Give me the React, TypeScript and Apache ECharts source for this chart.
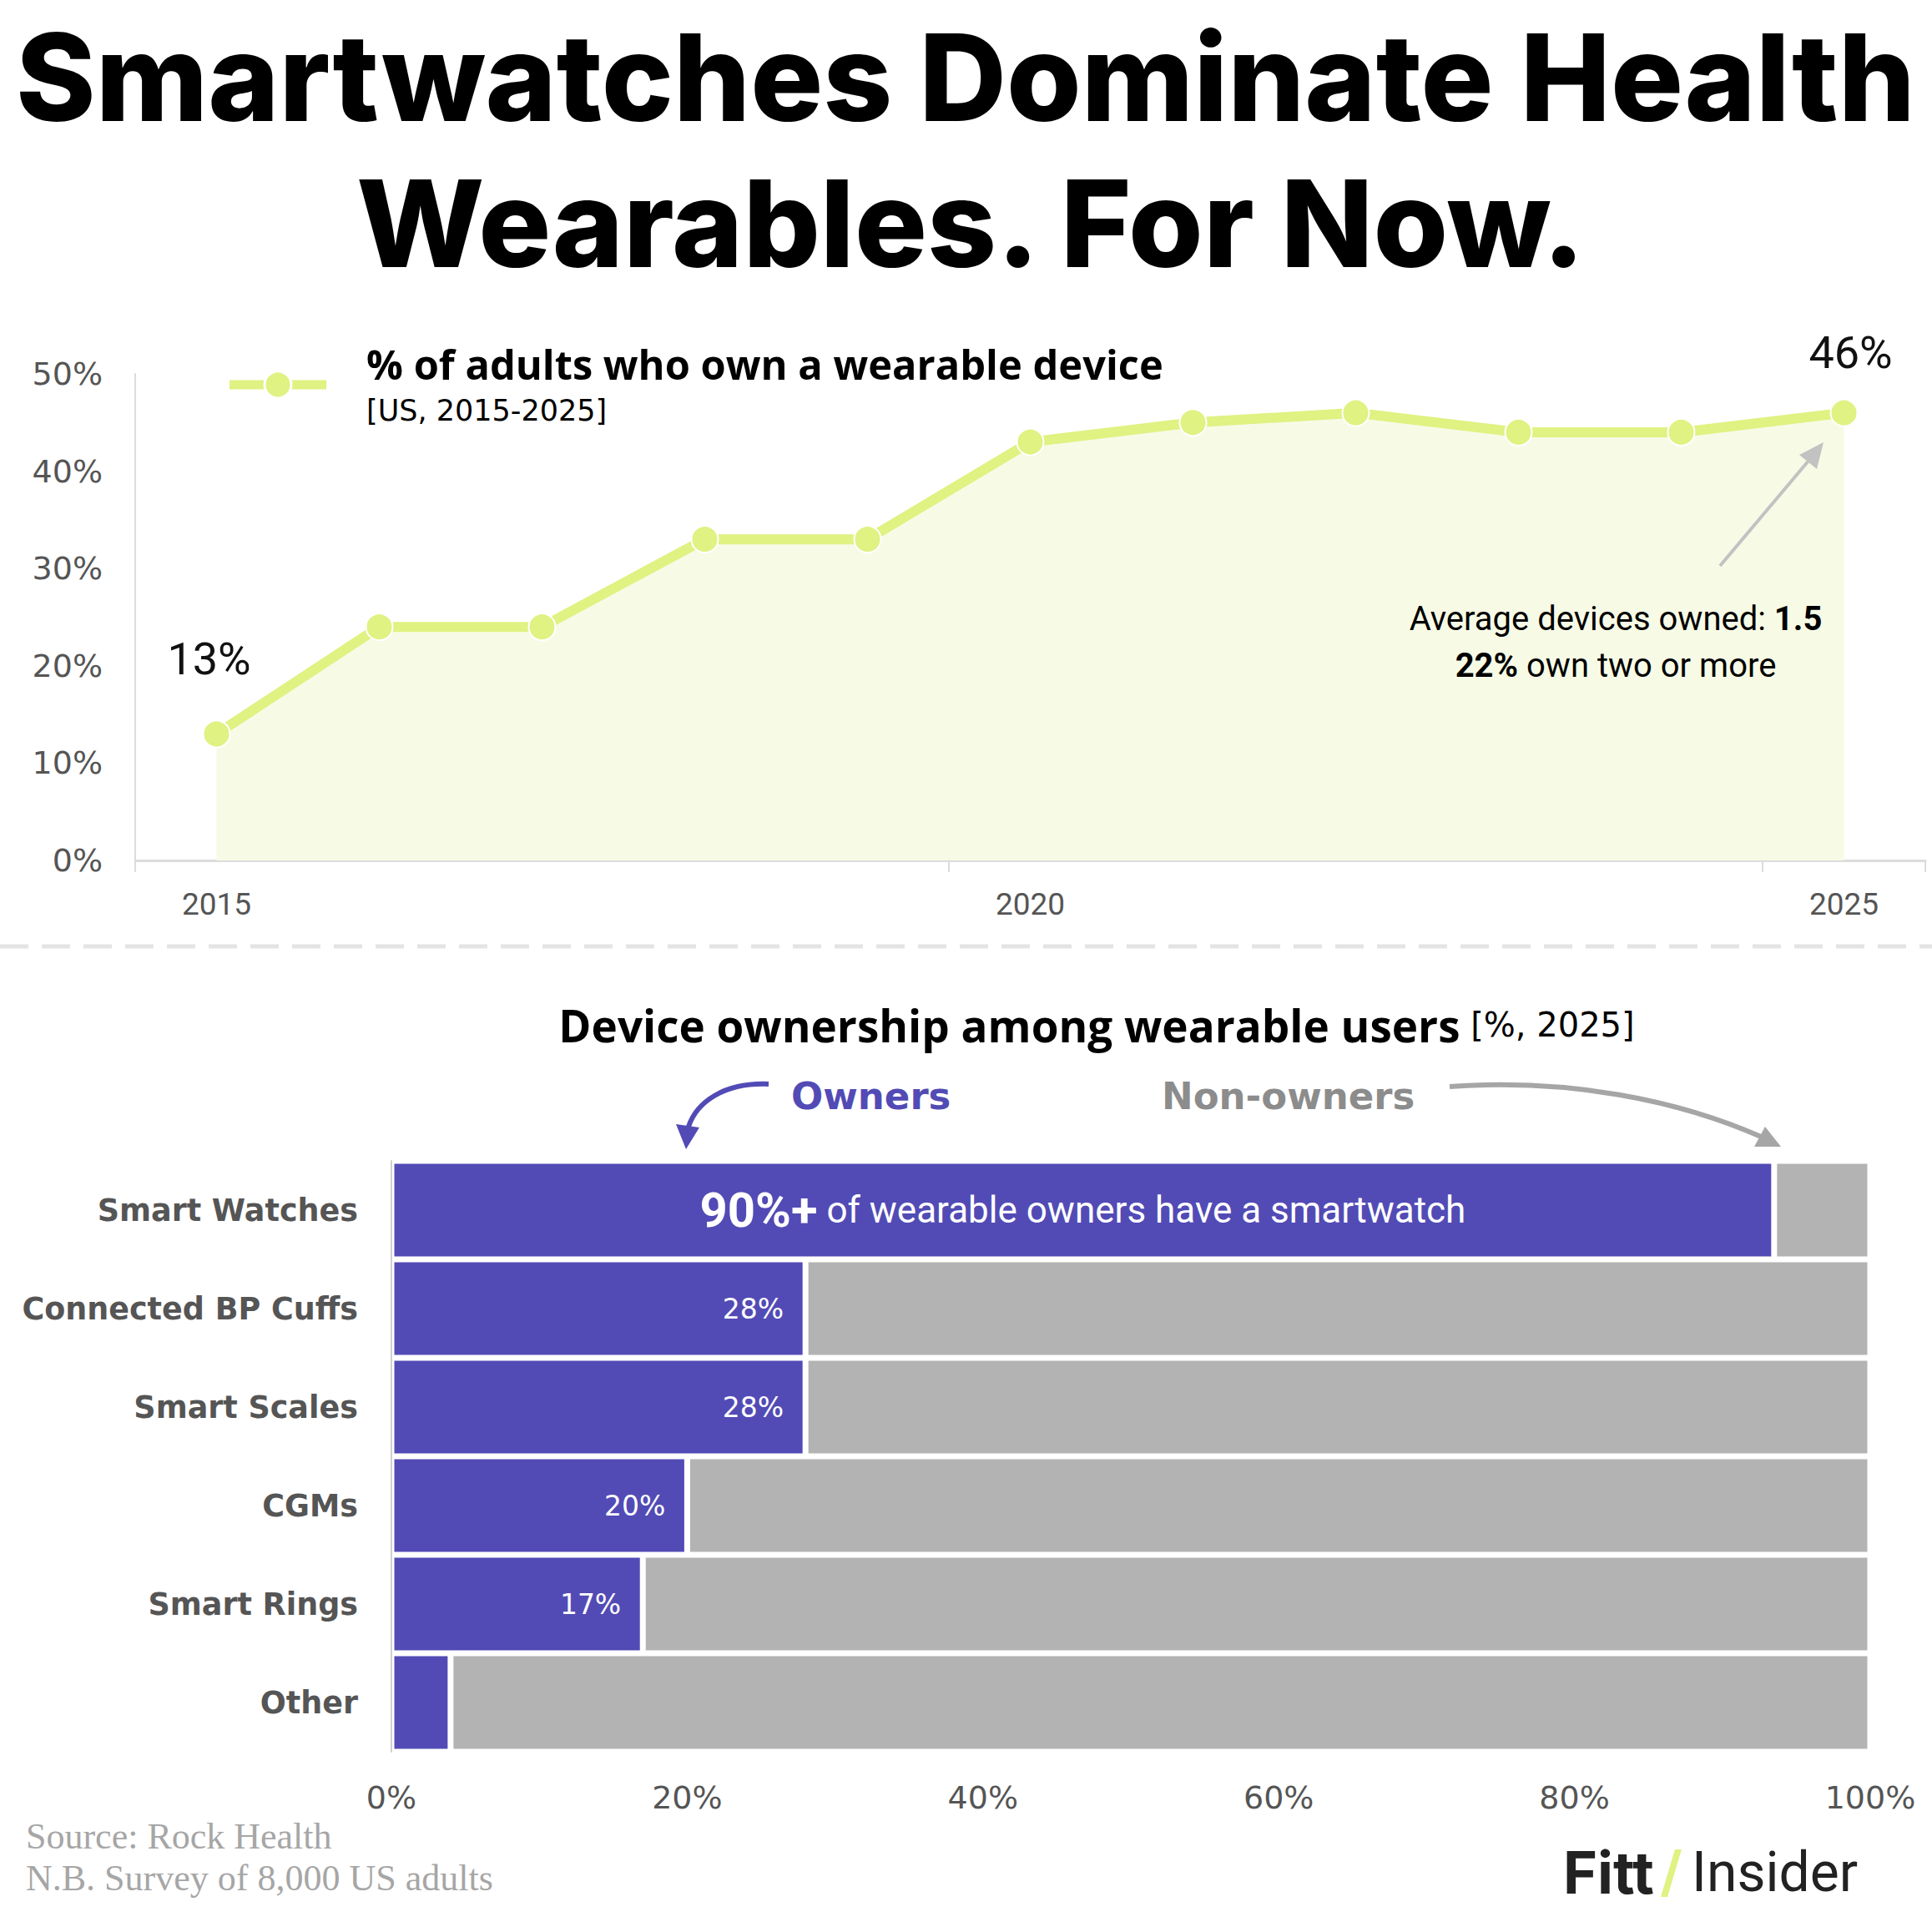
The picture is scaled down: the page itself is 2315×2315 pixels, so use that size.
import React, { useEffect, useRef } from "react";
import * as echarts from "echarts";

// Share of US adults owning a wearable device, 2015–2025
const years = ["2015", "2016", "2017", "2018", "2019", "2020", "2021", "2022", "2023", "2024", "2025"];
const adultShare = [13, 24, 24, 33, 33, 43, 45, 46, 44, 44, 46];

// Device ownership among wearable users, 2025
const devices = ["Smart Watches", "Connected BP Cuffs", "Smart Scales", "CGMs", "Smart Rings", "Other"];
const owners = [93.5, 28, 28, 20, 17, 4];
const nonOwners = [6.5, 72, 72, 80, 83, 96];

const LIME = "#dff282";
const PURPLE = "#524bb5";
const GREY_BAR = "#b3b3b3";
const AXIS_TEXT = "#555555";
const SANS = "Roboto, 'Noto Sans', sans-serif";
const WIDE = "'DejaVu Sans', 'Open Sans', sans-serif";
const OPEN = "'Open Sans', 'Noto Sans', sans-serif";
const TITLE_FONT = "Inter, 'Liberation Sans', sans-serif";

export default function App() {
  const ref = useRef<HTMLDivElement>(null);

  useEffect(() => {
    if (!ref.current) return;
    const chart = echarts.init(ref.current, null, { renderer: "svg" });

    const lineData = adultShare.map((v, i) => {
      if (i === 0) {
        return { value: v, label: { show: true, distance: 46, offset: [-9, 0] } };
      }
      if (i === adultShare.length - 1) {
        return { value: v, label: { show: true, distance: 28, offset: [8, 0] } };
      }
      return v;
    });

    const ownerData = owners.map((v, i) => {
      if (i === 0) {
        return {
          value: v,
          label: {
            show: true,
            position: "inside",
            formatter: "{big|90%+}{txt| of wearable owners have a smartwatch}",
            rich: {
              big: { fontFamily: SANS, fontWeight: "bold", fontSize: 58, color: "#fff" },
              txt: { fontFamily: SANS, fontSize: 44, color: "#fff" },
            },
          },
        };
      }
      if (i === owners.length - 1) {
        return { value: v, label: { show: false } };
      }
      return v;
    });

    const txt = (style: any) => ({ type: "text", z: 100, style });

    const option: any = {
      animation: false,
      backgroundColor: "#ffffff",
      textStyle: { fontFamily: SANS },
      grid: [
        { left: 162, top: 448, width: 2145, height: 583, containLabel: false },
        { left: 469, top: 1391, width: 1772, height: 708, containLabel: false },
      ],
      xAxis: [
        {
          gridIndex: 0,
          type: "category",
          data: years,
          boundaryGap: true,
          axisLine: { show: true, lineStyle: { color: "#dcdcdc", width: 3 } },
          axisTick: { show: true, interval: 4, length: 14, lineStyle: { color: "#dcdcdc", width: 2 } },
          axisLabel: { interval: 4, color: AXIS_TEXT, fontSize: 37, margin: 34, fontFamily: SANS },
          splitLine: { show: false },
        },
        {
          gridIndex: 1,
          type: "value",
          min: 0,
          max: 100,
          interval: 20,
          axisLine: { show: false },
          axisTick: { show: false },
          splitLine: { show: false },
          axisLabel: { formatter: "{value}%", color: AXIS_TEXT, fontSize: 38, margin: 36, fontFamily: WIDE },
        },
      ],
      yAxis: [
        {
          gridIndex: 0,
          type: "value",
          min: 0,
          max: 50,
          interval: 10,
          axisLine: { show: true, lineStyle: { color: "#dcdcdc", width: 2 } },
          axisTick: { show: false },
          splitLine: { show: false },
          axisLabel: { formatter: "{value}%", color: AXIS_TEXT, fontSize: 38, margin: 39, fontFamily: WIDE },
        },
        {
          gridIndex: 1,
          type: "category",
          data: devices,
          inverse: true,
          z: 5,
          axisLine: { show: true, lineStyle: { color: "#cfcfcf", width: 2 } },
          axisTick: { show: false },
          splitLine: { show: false },
          axisLabel: { color: AXIS_TEXT, fontSize: 36.5, fontWeight: "bold", margin: 40, fontFamily: WIDE },
        },
      ],
      series: [
        {
          type: "line",
          xAxisIndex: 0,
          yAxisIndex: 0,
          data: lineData,
          symbol: "circle",
          symbolSize: 32,
          silent: true,
          lineStyle: { color: LIME, width: 12 },
          itemStyle: { color: LIME, borderColor: "#ffffff", borderWidth: 2 },
          areaStyle: { color: "#f7fbe6", opacity: 1 },
          label: {
            show: false,
            position: "top",
            formatter: "{c}%",
            color: "#111",
            fontSize: 54,
            fontFamily: SANS,
          },
        },
        {
          name: "Owners",
          type: "bar",
          xAxisIndex: 1,
          yAxisIndex: 1,
          stack: "own",
          barCategoryGap: "0%",
          data: ownerData,
          silent: true,
          itemStyle: { color: PURPLE, borderColor: "#ffffff", borderWidth: 3.5 },
          label: {
            show: true,
            position: "insideRight",
            distance: 26,
            formatter: "{c}%",
            color: "#ffffff",
            fontSize: 33,
            fontFamily: WIDE,
          },
        },
        {
          name: "Non-owners",
          type: "bar",
          xAxisIndex: 1,
          yAxisIndex: 1,
          stack: "own",
          barCategoryGap: "0%",
          data: nonOwners,
          silent: true,
          itemStyle: { color: GREY_BAR, borderColor: "#ffffff", borderWidth: 3.5 },
          label: { show: false },
        },
      ],
      graphic: [
        // headline
        txt({
          text: "Smartwatches Dominate Health",
          x: 1157,
          y: 92,
          align: "center",
          verticalAlign: "middle",
          fontFamily: TITLE_FONT,
          fontWeight: 800,
          fontSize: 145,
          fill: "#000",
        }),
        txt({
          text: "Wearables. For Now.",
          x: 1163,
          y: 267,
          align: "center",
          verticalAlign: "middle",
          fontFamily: TITLE_FONT,
          fontWeight: 800,
          fontSize: 145,
          fill: "#000",
        }),
        // legend key for the line
        {
          type: "line",
          z: 100,
          shape: { x1: 275, y1: 461, x2: 391, y2: 461 },
          style: { stroke: LIME, lineWidth: 11 },
        },
        {
          type: "circle",
          z: 101,
          shape: { cx: 333, cy: 461, r: 16 },
          style: { fill: LIME, stroke: "#fff", lineWidth: 3 },
        },
        txt({
          text: "% of adults who own a wearable device",
          x: 439,
          y: 436,
          verticalAlign: "middle",
          fontFamily: OPEN,
          fontWeight: "bold",
          fontSize: 48.8,
          fill: "#000",
        }),
        txt({
          text: "[US, 2015-2025]",
          x: 439,
          y: 492,
          verticalAlign: "middle",
          fontFamily: WIDE,
          fontSize: 35,
          fill: "#000",
        }),
        // annotation near 2025
        {
          type: "line",
          z: 100,
          shape: { x1: 2061, y1: 678, x2: 2168, y2: 551 },
          style: { stroke: "#c2c2c2", lineWidth: 4 },
        },
        {
          type: "polygon",
          z: 100,
          shape: { points: [[2185, 530], [2156, 545], [2177, 562]] },
          style: { fill: "#c2c2c2" },
        },
        txt({
          text: "{n|Average devices owned: }{b|1.5}",
          x: 1936,
          y: 741,
          align: "center",
          verticalAlign: "middle",
          rich: {
            n: { fontFamily: SANS, fontSize: 40, fill: "#000" },
            b: { fontFamily: SANS, fontSize: 40, fontWeight: "bold", fill: "#000" },
          },
        }),
        txt({
          text: "{b|22%}{n| own two or more}",
          x: 1936,
          y: 797,
          align: "center",
          verticalAlign: "middle",
          rich: {
            n: { fontFamily: SANS, fontSize: 40, fill: "#000" },
            b: { fontFamily: SANS, fontSize: 40, fontWeight: "bold", fill: "#000" },
          },
        }),
        // section divider
        {
          type: "line",
          z: 100,
          shape: { x1: 0, y1: 1134, x2: 2315, y2: 1134 },
          style: { stroke: "#e4e4e4", lineWidth: 5, lineDash: [34, 16] },
        },
        // bar chart heading
        txt({
          text: "{b|Device ownership among wearable users}{n| [%, 2025]}",
          x: 1314,
          y: 1228,
          align: "center",
          verticalAlign: "middle",
          rich: {
            b: { fontFamily: OPEN, fontSize: 53, fontWeight: "bold", fill: "#000" },
            n: { fontFamily: WIDE, fontSize: 40, fill: "#000" },
          },
        }),
        txt({
          text: "Owners",
          x: 948,
          y: 1313,
          verticalAlign: "middle",
          fontFamily: WIDE,
          fontWeight: "bold",
          fontSize: 45,
          fill: PURPLE,
        }),
        txt({
          text: "Non-owners",
          x: 1392,
          y: 1313,
          verticalAlign: "middle",
          fontFamily: WIDE,
          fontWeight: "bold",
          fontSize: 45,
          fill: "#8c8c8c",
        }),
        {
          type: "bezierCurve",
          z: 100,
          shape: { x1: 921, y1: 1299, cpx1: 868, cpy1: 1297, cpx2: 835, cpy2: 1320, x2: 825, y2: 1350 },
          style: { stroke: PURPLE, lineWidth: 6, fill: "none" },
        },
        {
          type: "polygon",
          z: 100,
          shape: { points: [[822, 1377], [810, 1347], [838, 1351]] },
          style: { fill: PURPLE },
        },
        {
          type: "bezierCurve",
          z: 100,
          shape: { x1: 1737, y1: 1302, cpx1: 1880, cpy1: 1292, cpx2: 2010, cpy2: 1318, x2: 2110, y2: 1362 },
          style: { stroke: "#a6a6a6", lineWidth: 6, fill: "none" },
        },
        {
          type: "polygon",
          z: 100,
          shape: { points: [[2134, 1374], [2102, 1374], [2115, 1350]] },
          style: { fill: "#a6a6a6" },
        },
        // footer
        txt({
          text: "Source: Rock Health",
          x: 31,
          y: 2200,
          verticalAlign: "middle",
          fontFamily: "'Liberation Serif', serif",
          fontSize: 44,
          fill: "#a6a6a6",
        }),
        txt({
          text: "N.B. Survey of 8,000 US adults",
          x: 31,
          y: 2250,
          verticalAlign: "middle",
          fontFamily: "'Liberation Serif', serif",
          fontSize: 44,
          fill: "#a6a6a6",
        }),
        // brand mark
        txt({
          text: "Fitt",
          x: 1873,
          y: 2243,
          verticalAlign: "middle",
          fontFamily: TITLE_FONT,
          fontWeight: 700,
          fontSize: 70,
          fill: "#222",
        }),
        {
          type: "polygon",
          z: 100,
          shape: { points: [[1990, 2273], [1998, 2273], [2015, 2216], [2007, 2216]] },
          style: { fill: LIME },
        },
        txt({
          text: "Insider",
          x: 2027,
          y: 2243,
          verticalAlign: "middle",
          fontFamily: SANS,
          fontWeight: 400,
          fontSize: 66,
          fill: "#222",
        }),
      ],
    };

    chart.setOption(option);
    return () => chart.dispose();
  }, []);

  return (
    <div
      ref={ref}
      style={{ position: "fixed", left: 0, top: 0, width: 2315, height: 2315, background: "#fff" }}
    />
  );
}
